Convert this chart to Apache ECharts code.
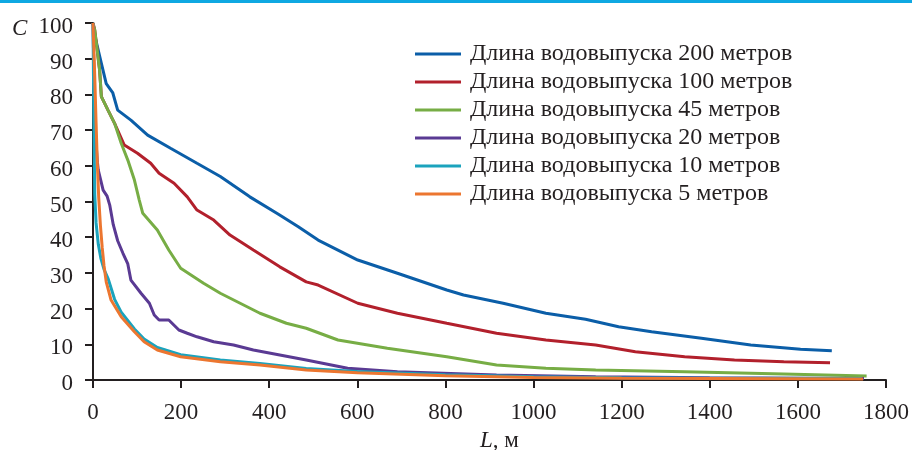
<!DOCTYPE html>
<html>
<head>
<meta charset="utf-8">
<script src="https://cdn.jsdelivr.net/npm/echarts@6/dist/echarts.min.js"></script>
<style>
  html, body { margin: 0; padding: 0; background: #fff; }
  #chart { width: 912px; height: 450px; }
</style>
</head>
<body>
<div id="chart"></div>
<script>
// L, м  /  C for each outlet length
const len200 = [0, 5, 19, 30, 45, 56, 86, 124, 176, 236, 289, 356, 420, 466, 511, 601, 691, 803, 841, 931, 1028, 1118, 1193, 1268, 1381, 1493, 1606, 1677];
const conc200 = [100, 96, 88.7, 83, 80.4, 75.6, 72.8, 68.6, 64.9, 60.7, 57, 51.3, 46.5, 42.9, 39.2, 33.6, 29.9, 25.2, 23.8, 21.5, 18.7, 17, 14.9, 13.5, 11.7, 9.8, 8.6, 8.2];

const len100 = [0, 4, 15, 19, 34, 49, 71, 101, 131, 150, 184, 214, 236, 274, 311, 364, 424, 484, 511, 601, 691, 803, 916, 1028, 1141, 1231, 1343, 1456, 1568, 1673];
const conc100 = [100, 98, 86.8, 79.4, 75.6, 71.9, 65.8, 63.5, 60.7, 57.9, 55.1, 51.3, 47.6, 44.8, 40.6, 36.4, 31.7, 27.5, 26.6, 21.5, 18.7, 15.9, 13.1, 11.2, 9.8, 7.9, 6.5, 5.6, 5.1, 4.8];

const len45 = [0, 4, 15, 19, 34, 49, 64, 79, 94, 105, 113, 146, 172, 199, 251, 289, 334, 379, 439, 484, 556, 668, 803, 916, 1028, 1141, 1343, 1568, 1756];
const conc45 = [100, 98, 86.8, 79.4, 75.6, 71.9, 66.3, 61.6, 56, 50.4, 46.7, 42, 36.4, 31.3, 27.1, 24.3, 21.5, 18.7, 15.9, 14.5, 11.2, 8.9, 6.5, 4.2, 3.3, 2.8, 2.3, 1.7, 1.1];

const len20 = [0, 3, 6, 10, 12, 23, 32, 38, 46, 56, 68, 79, 86, 109, 128, 139, 150, 172, 195, 214, 236, 274, 319, 364, 424, 484, 578, 691, 916, 1141, 1400, 1750];
const conc20 = [100, 80, 68, 61, 58.8, 53.2, 51.5, 49, 43.5, 39, 35.5, 32.5, 28, 24.3, 21.5, 18.2, 16.8, 16.8, 14, 13.1, 12.1, 10.7, 9.8, 8.4, 7, 5.6, 3.3, 2.3, 1.4, 0.9, 0.6, 0.4];

const len10 = [0, 2, 4, 7, 12, 18, 25, 34, 49, 64, 94, 116, 146, 199, 289, 379, 484, 600, 800, 1000, 1200, 1400, 1745];
const conc10 = [100, 72, 52, 44, 38, 34, 31, 28.5, 22.6, 19, 14.3, 11.5, 9.1, 7.1, 5.6, 4.6, 3.2, 2.4, 1.5, 0.9, 0.6, 0.5, 0.4];

const len5 = [0, 4, 7, 10, 13, 17, 21, 25, 30, 41, 64, 94, 116, 146, 199, 289, 379, 484, 600, 800, 1000, 1200, 1400, 1748];
const conc5 = [100, 85, 72, 60, 51, 43, 37, 32, 27.5, 22.4, 17.7, 13.5, 10.7, 8.4, 6.5, 5.1, 4.2, 2.8, 2, 1.2, 0.7, 0.5, 0.4, 0.3];

const names = [
  'Длина водовыпуска 200 метров',
  'Длина водовыпуска 100 метров',
  'Длина водовыпуска 45 метров',
  'Длина водовыпуска 20 метров',
  'Длина водовыпуска 10 метров',
  'Длина водовыпуска 5 метров'
];
const colors = ['#0b5ea8', '#b2202c', '#77ad45', '#5a3a93', '#1ba3bd', '#ec7630'];
const lens = [len200, len100, len45, len20, len10, len5];
const concs = [conc200, conc100, conc45, conc20, conc10, conc5];

const FONT = '"Liberation Serif", "DejaVu Serif", serif';
const INK = '#231f20';

const myChart = echarts.init(document.getElementById('chart'));

const series = names.map((n, i) => ({
  name: n,
  type: 'line',
  data: lens[i].map((x, j) => [x, concs[i][j]]),
  showSymbol: false,
  symbol: 'none',
  lineStyle: { color: colors[i], width: 3 },
  itemStyle: { color: colors[i] }
}));

myChart.setOption({
  animation: false,
  grid: { left: 93, right: 19, top: 23, bottom: 70 },
  legend: {
    orient: 'vertical',
    left: 410,
    top: 37,
    itemWidth: 46,
    itemHeight: 3,
    itemGap: 4,
    icon: 'rect',
    data: names,
    textStyle: { fontFamily: FONT, fontSize: 24, lineHeight: 24, color: INK, padding: [0, 0, 0, 4] }
  },
  xAxis: {
    type: 'value',
    min: 0,
    max: 1800,
    interval: 200,
    splitLine: { show: false },
    axisLine: { lineStyle: { color: INK, width: 2 } },
    axisTick: { show: true, length: 8, lineStyle: { color: INK, width: 2 } },
    axisLabel: { fontFamily: FONT, fontSize: 23, color: INK, margin: 21, formatter: v => String(v) }
  },
  yAxis: {
    type: 'value',
    min: 0,
    max: 100,
    interval: 10,
    splitLine: { show: false },
    axisLine: { show: true, lineStyle: { color: INK, width: 2 } },
    axisTick: { show: true, length: 8, lineStyle: { color: INK, width: 2 } },
    axisLabel: { fontFamily: FONT, fontSize: 23, color: INK, margin: 20, verticalAlign: 'top', lineHeight: 8 }
  },
  graphic: [
    { type: 'rect', left: 0, top: 0, shape: { width: 912, height: 3 }, style: { fill: '#0fa8e2' } },
    { type: 'text', left: 12, top: 17, style: { text: 'C', font: 'italic 23px ' + FONT, fill: INK } },
    {
      type: 'text', left: 480, top: 429,
      style: {
        text: '{i|L}{r|, м}',
        rich: {
          i: { fontFamily: FONT, fontStyle: 'italic', fontSize: 23, fill: INK },
          r: { fontFamily: FONT, fontSize: 23, fill: INK }
        }
      }
    }
  ],
  series: series
});
</script>
</body>
</html>
